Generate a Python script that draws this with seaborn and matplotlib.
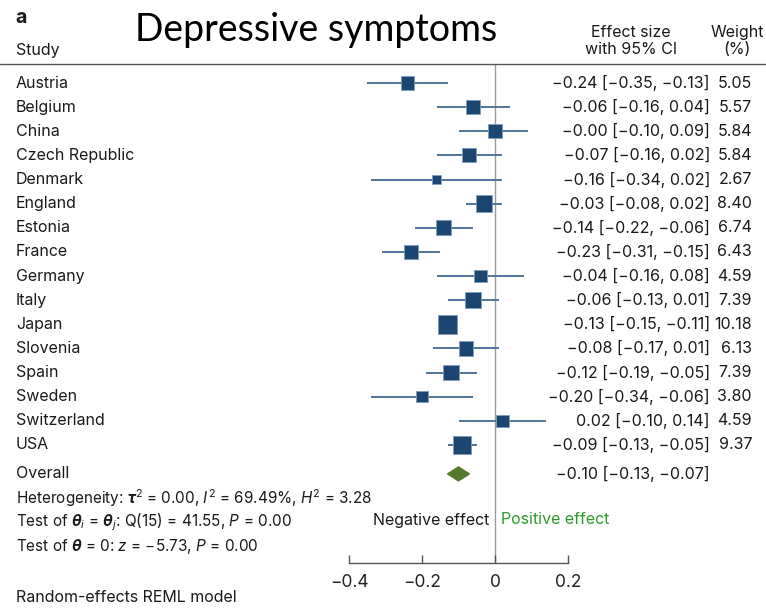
import numpy as np
import pandas as pd
import matplotlib
matplotlib.use("Agg")
import matplotlib.pyplot as plt
import matplotlib.transforms as mtransforms
from matplotlib.lines import Line2D
from matplotlib.patches import Polygon
import seaborn as sns

countries = ["Austria", "Belgium", "China", "Czech Republic", "Denmark", "England",
             "Estonia", "France", "Germany", "Italy", "Japan", "Slovenia", "Spain",
             "Sweden", "Switzerland", "USA"]
effect = [-0.24, -0.06, -0.00, -0.07, -0.16, -0.03, -0.14, -0.23, -0.04, -0.06,
          -0.13, -0.08, -0.12, -0.20, 0.02, -0.09]
ci_low = [-0.35, -0.16, -0.10, -0.16, -0.34, -0.08, -0.22, -0.31, -0.16, -0.13,
          -0.15, -0.17, -0.19, -0.34, -0.10, -0.13]
ci_high = [-0.13, 0.04, 0.09, 0.02, 0.02, 0.02, -0.06, -0.15, 0.08, 0.01,
           -0.11, 0.01, -0.05, -0.06, 0.14, -0.05]
weights = [5.05, 5.57, 5.84, 5.84, 2.67, 8.40, 6.74, 6.43, 4.59, 7.39,
           10.18, 6.13, 7.39, 3.80, 4.59, 9.37]
overall_est, overall_low, overall_high = -0.10, -0.13, -0.07
xticks = [-0.4, -0.2, 0, 0.2]
xtick_labels = ["\u22120.4", "\u22120.2", "0", "0.2"]

sns.set_theme(style="white")
plt.rcParams["font.family"] = ["Inter", "DejaVu Sans"]
plt.rcParams["mathtext.fontset"] = "custom"
plt.rcParams["mathtext.rm"] = "Inter"
plt.rcParams["mathtext.it"] = "Inter:italic"
plt.rcParams["mathtext.bf"] = "Inter:bold:italic"

W, H = 766, 610
fig = plt.figure(figsize=(W / 100, H / 100), dpi=100)
fig.patch.set_facecolor("white")

def fx(px):
    return px / W

def fy(py):
    return 1 - py / H

row0, rowstep = 83, 24.13
top_px, bot_px = 65, 563
ax = fig.add_axes([fx(349), fy(bot_px), fx(568) - fx(349), (bot_px - top_px) / H])
ax.set_xlim(-0.4, 0.2)
ax.set_ylim((bot_px - row0) / rowstep, (top_px - row0) / rowstep)
ax.patch.set_alpha(0)

rows = np.arange(len(countries))
df = pd.DataFrame({"country": countries, "effect": effect, "low": ci_low,
                   "high": ci_high, "weight": weights, "row": rows})

ax.axvline(0, color="#9a9a9a", lw=1.0, zorder=0)
ax.hlines(df["row"], df["low"], df["high"], color="#4f7599", lw=1.4, zorder=1)
k = 17.4
sns.scatterplot(data=df, x="effect", y="row", size="weight", marker="s",
                sizes=(k * min(weights), k * max(weights)),
                size_norm=(min(weights), max(weights)),
                color="#1b4672", edgecolor="#7d9bb8", linewidth=0.6,
                legend=False, ax=ax, zorder=3, clip_on=False)

overall_row = 16.2
hh = 0.29
ax.add_patch(Polygon([(overall_low, overall_row), (overall_est, overall_row - hh),
                      (overall_high, overall_row), (overall_est, overall_row + hh)],
                     closed=True, facecolor="#557a2d", edgecolor="#557a2d", zorder=3))

for s in ["top", "left", "right"]:
    ax.spines[s].set_visible(False)
ax.spines["bottom"].set_color("#555555")
ax.spines["bottom"].set_linewidth(1.0)
ax.set_xticks(xticks)
ax.set_xticklabels(xtick_labels, fontsize=12.5, color="#222222")
ax.tick_params(axis="x", direction="in", length=6, width=1.0, color="#555555",
               pad=8, bottom=True)
ax.set_yticks([])
ax.set_xlabel("")
ax.set_ylabel("")

trans = mtransforms.blended_transform_factory(fig.transFigure, ax.transData)
fs = 11.5
fs_stats = 11
tc = "#1a1a1a"

def fmt(v):
    return f"{v:.2f}".replace("-", "\u2212")

for i, c in enumerate(countries):
    ax.text(fx(16), i, c, transform=trans, ha="left", va="center", fontsize=fs, color=tc)
    ax.text(fx(710), i, f"{fmt(effect[i])} [{fmt(ci_low[i])}, {fmt(ci_high[i])}]",
            transform=trans, ha="right", va="center", fontsize=fs, color=tc)
    ax.text(fx(752), i, f"{weights[i]:.2f}", transform=trans, ha="right", va="center",
            fontsize=fs, color=tc)

ax.text(fx(16), overall_row, "Overall", transform=trans, ha="left", va="center",
        fontsize=fs, color=tc)
ax.text(fx(710), overall_row,
        f"{fmt(overall_est)} [{fmt(overall_low)}, {fmt(overall_high)}]",
        transform=trans, ha="right", va="center", fontsize=fs, color=tc)

# header
fig.text(fx(15), fy(18), "a", fontsize=14, fontweight="bold", ha="left", va="center", color=tc)
fig.text(fx(16), fy(51), "Study", fontsize=fs, ha="left", va="center", color=tc)
fig.text(fx(316), fy(30), "Depressive symptoms", fontsize=27, ha="center", va="center",
         color="black", family=["Lato", "DejaVu Sans"])
fig.text(fx(631), fy(41), "Effect size\nwith 95% CI", fontsize=fs, ha="center",
         va="center", color=tc, linespacing=1.2)
fig.text(fx(737), fy(41), "Weight\n(%)", fontsize=fs, ha="center", va="center",
         color=tc, linespacing=1.2)
fig.add_artist(Line2D([0, 1], [fy(64), fy(64)], transform=fig.transFigure,
                      color="#555555", lw=1.0))

# statistics
fig.text(fx(16), fy(498),
         r"Heterogeneity: $\mathbf{\tau}^2$ = 0.00, $I^2$ = 69.49%, $H^2$ = 3.28",
         fontsize=fs_stats, ha="left", va="center", color=tc)
fig.text(fx(16), fy(522),
         r"Test of $\mathbf{\theta}_i$ = $\mathbf{\theta}_j$: Q(15) = 41.55, $P$ = 0.00",
         fontsize=fs_stats, ha="left", va="center", color=tc)
fig.text(fx(16), fy(546),
         r"Test of $\mathbf{\theta}$ = 0: $z$ = $-$5.73, $P$ = 0.00",
         fontsize=fs_stats, ha="left", va="center", color=tc)
fig.text(fx(16), fy(598), "Random-effects REML model", fontsize=fs, ha="left",
         va="center", color=tc)
fig.text(fx(489), fy(520), "Negative effect", fontsize=fs, ha="right", va="center", color=tc)
fig.text(fx(501), fy(520), "Positive effect", fontsize=fs, ha="left", va="center",
         color="#2e9a2e")

fig.savefig("out.png", dpi=100)
